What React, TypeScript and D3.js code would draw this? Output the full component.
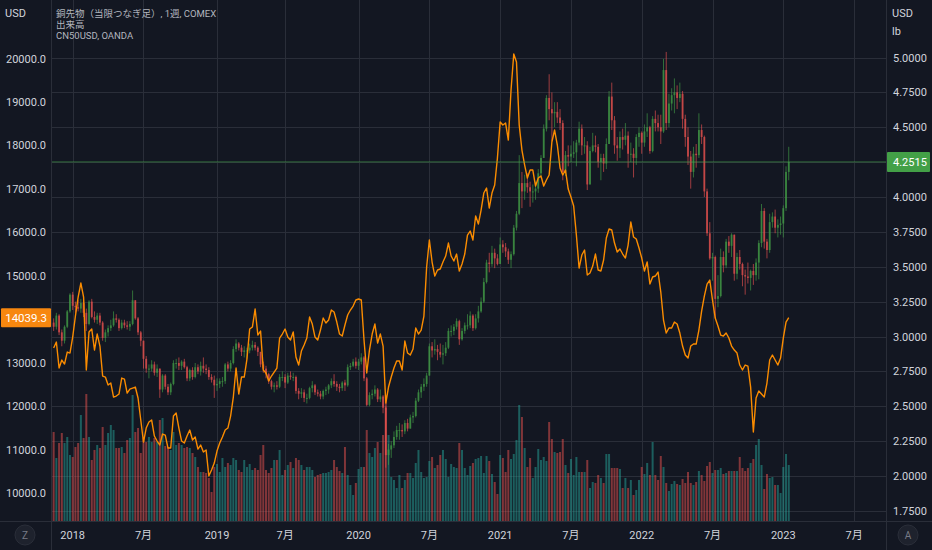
import React from "react";
import * as d3 from "d3";

const WIDTH = 932;
const HEIGHT = 550;
const plot = { left: 52, right: 886, top: 0, bottom: 521 };

// weekly bars, first bar = week of 2017-11-13, last bar = week of 2023-01-16
const firstWeek = new Date(2017, 10, 13);
const firstOpen = 3.1;

// copper futures (front month), USD / lb
const copperClose = [
  3.07, 3.15, 3.03, 2.97, 3.07, 3.18, 3.3,
  // 2018
  3.22, 3.21, 3.2, 3.24, 3.17, 3.09, 3.25, 3.14, 3.12, 3.15,
  3.1, 2.99, 3.03, 3.06, 3.08, 3.13, 3.12, 3.06, 3.1, 3.08,
  3.07, 3.09, 3.26, 3.13, 3.03, 2.97, 2.84, 2.77, 2.77, 2.8,
  2.74, 2.77, 2.62, 2.72, 2.64, 2.6, 2.66, 2.81, 2.81, 2.79,
  2.82, 2.78, 2.7, 2.76, 2.71, 2.78, 2.75, 2.79, 2.77, 2.76,
  2.71, 2.69, 2.65,
  // 2019
  2.66, 2.68, 2.68, 2.8, 2.77, 2.81, 2.91, 2.95, 2.92, 2.89,
  2.9, 2.9, 2.92, 2.94, 2.92, 2.89, 2.8, 2.77, 2.73, 2.68,
  2.64, 2.65, 2.64, 2.71, 2.71, 2.67, 2.72, 2.71, 2.71, 2.61,
  2.59, 2.6, 2.56, 2.56, 2.63, 2.65, 2.6, 2.59, 2.57, 2.61,
  2.62, 2.65, 2.68, 2.66, 2.64, 2.63, 2.67, 2.65, 2.78, 2.79,
  2.82, 2.79,
  // 2020
  2.82, 2.85, 2.7, 2.51, 2.58, 2.59, 2.62, 2.55, 2.57, 2.49,
  2.15, 2.19, 2.22, 2.28, 2.33, 2.33, 2.32, 2.38, 2.34, 2.42,
  2.43, 2.54, 2.6, 2.64, 2.66, 2.72, 2.93, 2.9, 2.91, 2.89,
  2.87, 2.88, 2.92, 3.04, 3.04, 3.07, 3.11, 2.98, 3.04, 3.08,
  3.08, 3.15, 3.06, 3.13, 3.18, 3.25, 3.39, 3.53, 3.52, 3.6,
  3.56, 3.52,
  // 2021
  3.66, 3.64, 3.61, 3.55, 3.59, 3.78, 3.88, 4.1, 4.04, 4.1,
  4.07, 4.04, 4.04, 4.06, 4.17, 4.28, 4.49, 4.71, 4.63, 4.6,
  4.61, 4.57, 4.53, 4.18, 4.3, 4.29, 4.31, 4.32, 4.39, 4.49,
  4.37, 4.37, 4.09, 4.33, 4.37, 4.36, 4.25, 4.28, 4.24, 4.38,
  4.72, 4.55, 4.37, 4.35, 4.43, 4.41, 4.44, 4.31, 4.31, 4.28,
  4.43, 4.46,
  // 2022
  4.39, 4.47, 4.5, 4.33, 4.56, 4.53, 4.5, 4.47, 4.91, 4.53,
  4.67, 4.73, 4.75, 4.71, 4.74, 4.56, 4.43, 4.29, 4.18, 4.31,
  4.3, 4.48, 4.43, 4.04, 3.74, 3.56, 3.57, 3.27, 3.29, 3.57,
  3.51, 3.68, 3.65, 3.73, 3.45, 3.57, 3.52, 3.44, 3.43, 3.42,
  3.47, 3.44, 3.53, 3.67, 3.9, 3.68, 3.62, 3.82, 3.86, 3.78,
  3.8, 3.81,
  // 2023
  3.92, 4.18, 4.2515,
];

const copperHigh = [
  3.13, 3.17, 3.16, 3.05, 3.08, 3.19, 3.31,
  3.32, 3.25, 3.26, 3.27, 3.26, 3.2, 3.26, 3.27, 3.18, 3.17,
  3.17, 3.11, 3.05, 3.08, 3.12, 3.18, 3.16, 3.13, 3.12, 3.12,
  3.11, 3.11, 3.33, 3.26, 3.14, 3.04, 2.97, 2.86, 2.8, 2.83,
  2.82, 2.8, 2.77, 2.73, 2.73, 2.66, 2.67, 2.83, 2.84, 2.85,
  2.83, 2.84, 2.79, 2.77, 2.78, 2.81, 2.8, 2.82, 2.85, 2.8,
  2.78, 2.73, 2.72,
  2.7, 2.7, 2.71, 2.81, 2.82, 2.83, 2.93, 2.98, 2.96, 2.94,
  2.93, 2.92, 2.95, 2.97, 2.96, 2.93, 2.89, 2.82, 2.79, 2.74,
  2.69, 2.67, 2.68, 2.73, 2.75, 2.73, 2.74, 2.75, 2.74, 2.72,
  2.63, 2.63, 2.62, 2.59, 2.64, 2.68, 2.66, 2.62, 2.61, 2.62,
  2.64, 2.66, 2.7, 2.73, 2.68, 2.66, 2.68, 2.69, 2.8, 2.81,
  2.84, 2.85,
  2.84, 2.88, 2.86, 2.71, 2.6, 2.62, 2.65, 2.63, 2.62, 2.58,
  2.5, 2.23, 2.25, 2.32, 2.36, 2.38, 2.37, 2.4, 2.41, 2.44,
  2.46, 2.56, 2.62, 2.66, 2.7, 2.74, 2.95, 2.96, 2.98, 2.94,
  2.95, 2.94, 2.96, 3.06, 3.08, 3.09, 3.13, 3.12, 3.06, 3.1,
  3.16, 3.18, 3.16, 3.16, 3.22, 3.28, 3.42, 3.55, 3.6, 3.65,
  3.63, 3.59,
  3.71, 3.69, 3.67, 3.63, 3.61, 3.8, 3.9, 4.3, 4.18, 4.16,
  4.17, 4.11, 4.09, 4.11, 4.2, 4.3, 4.52, 4.73, 4.88, 4.75,
  4.68, 4.68, 4.63, 4.55, 4.33, 4.37, 4.37, 4.4, 4.41, 4.54,
  4.52, 4.43, 4.4, 4.36, 4.46, 4.44, 4.38, 4.31, 4.31, 4.42,
  4.76, 4.82, 4.58, 4.43, 4.47, 4.49, 4.53, 4.47, 4.39, 4.35,
  4.45, 4.5,
  4.47, 4.52, 4.6, 4.51, 4.58, 4.62, 4.59, 4.59, 4.99, 5.04,
  4.74, 4.78, 4.85, 4.8, 4.82, 4.76, 4.59, 4.5, 4.33, 4.36,
  4.38, 4.6, 4.52, 4.44, 4.06, 3.82, 3.6, 3.58, 3.44, 3.63,
  3.61, 3.7, 3.72, 3.74, 3.72, 3.6, 3.62, 3.53, 3.48, 3.53,
  3.48, 3.52, 3.56, 3.69, 3.95, 3.92, 3.7, 3.88, 3.89, 3.91,
  3.84, 3.86,
  3.94, 4.22, 4.36,
];

const copperLow = [
  3.04, 3.05, 3.01, 2.93, 2.95, 3.06, 3.17,
  3.19, 3.17, 3.18, 3.17, 3.14, 3.04, 3.08, 3.13, 3.1, 3.09,
  3.08, 2.97, 2.96, 3.0, 3.04, 3.07, 3.1, 3.04, 3.05, 3.06,
  3.05, 3.04, 3.08, 3.12, 3.01, 2.93, 2.77, 2.74, 2.7, 2.75,
  2.72, 2.71, 2.56, 2.6, 2.62, 2.58, 2.58, 2.65, 2.77, 2.76,
  2.76, 2.77, 2.68, 2.68, 2.69, 2.7, 2.73, 2.72, 2.74, 2.73,
  2.69, 2.67, 2.56,
  2.61, 2.63, 2.64, 2.66, 2.75, 2.75, 2.8, 2.89, 2.9, 2.86,
  2.85, 2.84, 2.88, 2.9, 2.9, 2.86, 2.78, 2.74, 2.7, 2.66,
  2.62, 2.6, 2.62, 2.63, 2.68, 2.63, 2.66, 2.69, 2.68, 2.59,
  2.55, 2.56, 2.53, 2.52, 2.55, 2.6, 2.58, 2.57, 2.55, 2.55,
  2.58, 2.59, 2.63, 2.64, 2.61, 2.6, 2.61, 2.61, 2.64, 2.76,
  2.78, 2.77,
  2.76, 2.8, 2.68, 2.5, 2.5, 2.55, 2.57, 2.53, 2.53, 2.45,
  2.06, 2.08, 2.13, 2.2, 2.26, 2.26, 2.28, 2.3, 2.32, 2.34,
  2.38, 2.42, 2.53, 2.56, 2.61, 2.64, 2.72, 2.85, 2.87, 2.83,
  2.85, 2.8, 2.86, 2.91, 3.0, 3.01, 3.05, 2.94, 2.97, 3.02,
  3.05, 3.06, 3.04, 3.05, 3.1, 3.17, 3.24, 3.38, 3.46, 3.5,
  3.49, 3.51,
  3.52, 3.6, 3.57, 3.52, 3.49, 3.58, 3.76, 3.87, 3.92, 3.98,
  4.03, 3.93, 3.96, 3.98, 4.03, 4.15, 4.28, 4.47, 4.55, 4.4,
  4.5, 4.53, 4.48, 4.12, 4.15, 4.22, 4.25, 4.28, 4.22, 4.37,
  4.3, 4.31, 4.05, 4.1, 4.32, 4.32, 4.21, 4.12, 4.18, 4.2,
  4.38, 4.48, 4.31, 4.26, 4.28, 4.34, 4.37, 4.21, 4.25, 4.14,
  4.23, 4.36,
  4.31, 4.36, 4.43, 4.31, 4.32, 4.47, 4.47, 4.38, 4.46, 4.48,
  4.5, 4.62, 4.6, 4.63, 4.68, 4.49, 4.36, 4.23, 4.06, 4.14,
  4.21, 4.28, 4.38, 4.0, 3.72, 3.55, 3.4, 3.13, 3.21, 3.28,
  3.46, 3.49, 3.6, 3.57, 3.4, 3.41, 3.48, 3.36, 3.3, 3.38,
  3.33, 3.37, 3.4, 3.41, 3.64, 3.63, 3.56, 3.6, 3.78, 3.74,
  3.71, 3.73,
  3.71, 3.9, 4.12,
];

// weekly volume, thousand contracts
const volume = [
  445, 315, 390, 440, 390, 420, 330,
  320, 370, 390, 530, 415, 635, 420, 305, 355, 380,
  365, 470, 380, 440, 480, 455, 365, 365, 370, 340,
  405, 415, 630, 445, 465, 340, 415, 395, 420, 395,
  415, 395, 505, 515, 375, 370, 355, 445, 380, 390,
  380, 365, 370, 365, 340, 320, 270, 245, 245, 240,
  215, 145, 270,
  285, 245, 315, 270, 290, 280, 315, 305, 255, 245,
  305, 270, 285, 255, 265, 255, 330, 380, 255, 240,
  265, 305, 305, 355, 230, 255, 280, 295, 265, 315,
  305, 280, 255, 270, 270, 255, 220, 230, 235, 240,
  240, 245, 255, 305, 270, 250, 240, 370, 230, 180,
  130, 190,
  260, 270, 270, 455, 340, 320, 365, 395, 340, 430,
  630, 430, 220, 205, 165, 230, 165, 205, 240, 240,
  215, 290, 355, 245, 215, 220, 300, 320, 265, 280,
  330, 355, 310, 220, 285, 270, 265, 390, 355, 265,
  230, 275, 290, 310, 315, 325, 240, 325, 300, 235,
  195, 135,
  330, 315, 245, 355, 310, 335, 405, 580, 520, 365,
  270, 315, 215, 270, 360, 305, 320, 300, 495, 410,
  345, 340, 345, 410, 280, 240, 310, 230, 320, 245,
  245, 245, 305, 165, 195, 190, 230, 215, 190, 335,
  335, 265, 265, 265, 260, 165, 215, 165, 205, 130,
  155, 205,
  270, 235, 290, 230, 395, 230, 205, 325, 270, 190,
  150, 185, 200, 185, 180, 210, 190, 245, 190, 180,
  195, 250, 230, 200, 275, 295, 240, 255, 255, 265,
  235, 240, 250, 250, 250, 250, 320, 265, 250, 265,
  290, 310, 380, 410, 280, 160, 235, 215, 220, 180,
  180, 140,
  270, 335, 280,
];

// CN50USD weekly close (OANDA), USD
const cn50 = [
  13341, 13479, 12881, 13065, 12973, 13249, 13226,
  13594, 14077, 14514, 14836, 14514, 12835, 13709, 13778, 13295, 13663,
  13387, 12697, 12674, 12490, 12536, 12214, 12237, 12283, 12651, 12628,
  12306, 12398, 12421, 12444, 12191, 11685, 11179, 11501, 11639, 11685,
  11317, 11202, 11110, 11363, 11340, 11041, 11041, 11777, 11846, 11501,
  11202, 11156, 11317, 11455, 11225, 11294, 11018, 11110, 10949, 10995,
  10397, 10535, 10696,
  10972, 11156, 11294, 11455, 11501, 11777, 12214, 12881, 12283, 12674,
  12674, 13088, 13778, 13824, 14238, 13640, 13732, 12835, 12766, 12582,
  12697, 12789, 12881, 13571, 13663, 13778, 13594, 13525, 13709, 13134,
  12950, 13272, 13410, 13571, 14054, 13893, 13594, 13525, 13755, 14031,
  13916, 13985, 14215, 14169, 13939, 13663, 13617, 13870, 14100, 14215,
  14307, 14445,
  14468, 14445, 13525, 12766, 13295, 13663, 13893, 13456, 13663, 13387,
  12076, 12444, 12674, 12881, 13042, 13042, 12835, 13502, 13226, 13180,
  13318, 13801, 13663, 13755, 14077, 15204, 15825, 15319, 14997, 15135,
  15158, 15319, 15457, 15756, 15457, 15342, 15503, 15112, 15273, 15503,
  15940, 16032, 15825, 16377, 16193, 16515, 16906, 17021, 16561, 16906,
  17090, 17711,
  18539, 18470, 18516, 18125, 19275, 20103, 19919, 18470, 17895, 17550,
  17251, 17435, 17435, 17067, 17251, 17297, 17067, 17205, 17320, 18079,
  18355, 18010, 17481, 17320, 17435, 16998, 16814, 16607, 15940, 15181,
  15480, 15595, 15020, 15066, 15227, 15503, 15135, 15112, 15365, 15871,
  16078, 16055, 15756, 15549, 15618, 15503, 15411, 15710, 16239, 15894,
  15848, 15641,
  15411, 15112, 15319, 14813, 14974, 14997, 15089, 14629, 13985, 13686,
  13801, 13801, 13939, 13893, 13686, 13387, 13180, 13111, 13387, 13433,
  13433, 13755, 14192, 14537, 14813, 14905, 14445, 14031, 13847, 13640,
  13617, 13686, 13571, 13387, 13295, 13226, 12950, 12835, 12950, 12927,
  12444, 11409, 12191, 12352, 12283, 12214, 12536, 13065, 13180, 13065,
  12950, 13111,
  13571, 13939, 14039.3,
];

const priceTicks = [5, 4.75, 4.5, 4.25, 4, 3.75, 3.5, 3.25, 3, 2.75, 2.5, 2.25, 2, 1.75];
const cnTicks = [20000, 19000, 18000, 17000, 16000, 15000, 14000, 13000, 12000, 11000, 10000];
const timeTickDates = [
  "2018-01-01", "2018-07-02", "2019-01-07", "2019-07-01", "2020-01-06", "2020-07-06",
  "2021-01-04", "2021-07-05", "2022-01-03", "2022-07-04", "2023-01-02", "2023-07-03",
];
const timeTickLabels = ["2018", "7月", "2019", "7月", "2020", "7月", "2021", "7月", "2022", "7月", "2023", "7月"];

const BG = "#131722";
const GRID = "#2a2e39";
const TEXT = "#d1d4dc";
const UP = "#43a047";
const DOWN = "#ef5350";
const ORANGE = "#fb8c00";
const FONT = "Roboto, 'Noto Sans CJK JP', sans-serif";

export default function App() {
  const parse = d3.timeParse("%Y-%m-%d");
  const weeks = copperClose.map((_, i) => d3.timeMonday.offset(firstWeek, i));
  const opens = copperClose.map((_, i) => (i === 0 ? firstOpen : copperClose[i - 1]));

  const x = d3
    .scaleTime()
    .domain([new Date(2018, 0, 1), new Date(2023, 0, 2)])
    .range([72.7, 783.3]);
  const yPrice = d3.scaleLinear().domain([1.75, 5]).range([510.9, 57.5]);
  const yCn = d3.scaleLinear().domain([10000, 20000]).range([493.3, 58.5]);
  const yVol = d3.scaleLinear().domain([0, 1000]).range([plot.bottom, plot.bottom - 200]);

  const cnLine = d3
    .line<number>()
    .x((_, i) => x(weeks[i]))
    .y((d) => yCn(d));

  const last = copperClose.length - 1;
  const lastPrice = copperClose[last];
  const lastCn = cn50[last];

  return (
    <svg
      width={WIDTH}
      height={HEIGHT}
      style={{ position: "absolute", left: 0, top: 0, display: "block", background: BG }}
      fontFamily={FONT}
    >
      <defs>
        <clipPath id="plot-clip">
          <rect x={plot.left} y={plot.top} width={plot.right - plot.left} height={plot.bottom - plot.top} />
        </clipPath>
      </defs>
      <rect width={WIDTH} height={HEIGHT} fill={BG} />

      {/* grid */}
      <g stroke={GRID} strokeWidth={1}>
        {priceTicks.map((t) => (
          <line key={t} x1={plot.left} x2={plot.right} y1={Math.round(yPrice(t)) + 0.5} y2={Math.round(yPrice(t)) + 0.5} />
        ))}
        {timeTickDates.map((d) => {
          const xx = Math.round(x(parse(d)!)) + 0.5;
          return <line key={d} x1={xx} x2={xx} y1={plot.top} y2={plot.bottom} />;
        })}
      </g>

      <g clipPath="url(#plot-clip)">
        {/* volume */}
        {volume.map((v, i) => {
          const up = copperClose[i] >= opens[i];
          return (
            <rect
              key={i}
              x={x(weeks[i]) - 1}
              y={yVol(v)}
              width={2}
              height={plot.bottom - yVol(v)}
              fill={up ? "#26a69a" : DOWN}
              fillOpacity={0.5}
            />
          );
        })}

        {/* candles */}
        {copperClose.map((c, i) => {
          const o = opens[i];
          const up = c >= o;
          const hi = Math.max(copperHigh[i], o, c);
          const lo = Math.min(copperLow[i], o, c);
          const cx = x(weeks[i]);
          const top = yPrice(Math.max(o, c));
          const h = Math.max(1, Math.abs(yPrice(o) - yPrice(c)));
          const col = up ? UP : DOWN;
          return (
            <g key={i} opacity={0.8}>
              <line x1={cx} x2={cx} y1={yPrice(hi)} y2={yPrice(lo)} stroke={col} strokeWidth={0.8} />
              <rect x={cx - 0.9} y={top} width={1.8} height={h} fill={col} />
            </g>
          );
        })}

        {/* CN50USD */}
        <path d={cnLine(cn50) ?? ""} fill="none" stroke={ORANGE} strokeWidth={1.4} strokeLinejoin="round" />

        {/* last price line */}
        <line
          x1={plot.left}
          x2={plot.right}
          y1={yPrice(lastPrice)}
          y2={yPrice(lastPrice)}
          stroke={UP}
          strokeOpacity={0.6}
          strokeWidth={1}
        />
      </g>

      {/* pane borders */}
      <g stroke={GRID} strokeWidth={1}>
        <line x1={plot.left - 0.5} x2={plot.left - 0.5} y1={0} y2={HEIGHT} />
        <line x1={plot.right + 0.5} x2={plot.right + 0.5} y1={0} y2={HEIGHT} />
        <line x1={0} x2={WIDTH} y1={plot.bottom + 0.5} y2={plot.bottom + 0.5} />
      </g>

      {/* legend */}
      <g fill="#b2b5be" fontSize={9.5}>
        <text x={56} y={17}>銅先物（当限つなぎ足）, 1週, COMEX</text>
        <text x={56} y={28}>出来高</text>
        <text x={56} y={39}>CN50USD, OANDA</text>
      </g>

      {/* right axis */}
      <g fill={TEXT} fontSize={11}>
        <text x={892} y={17}>USD</text>
        <text x={892} y={35}>lb</text>
        {priceTicks
          .filter((t) => Math.abs(yPrice(t) - yPrice(lastPrice)) > 12)
          .map((t) => (
            <text key={t} x={893} y={yPrice(t) + 4}>
              {d3.format(".4f")(t)}
            </text>
          ))}
      </g>
      <rect x={plot.right + 1} y={yPrice(lastPrice) - 10} width={WIDTH - plot.right - 3} height={20} fill={UP} rx={1} />
      <text x={893} y={yPrice(lastPrice) + 4} fill="#ffffff" fontSize={11}>
        {d3.format(".4f")(lastPrice)}
      </text>

      {/* left axis */}
      <g fill={TEXT} fontSize={11}>
        <text x={5} y={17}>USD</text>
        {cnTicks
          .filter((t) => Math.abs(yCn(t) - yCn(lastCn)) > 12)
          .map((t) => (
            <text key={t} x={46} y={yCn(t) + 4} textAnchor="end">
              {d3.format(".1f")(t)}
            </text>
          ))}
      </g>
      <rect x={1} y={yCn(lastCn) - 9.5} width={plot.left - 2} height={19} fill="#f7870f" rx={1} />
      <text x={47} y={yCn(lastCn) + 4} fill="#ffffff" fontSize={11.5} textAnchor="end">
        {d3.format(".1f")(lastCn)}
      </text>

      {/* time axis */}
      <g fill={TEXT} fontSize={11} textAnchor="middle">
        {timeTickDates.map((d, i) => (
          <text key={d} x={x(parse(d)!)} y={539}>
            {timeTickLabels[i]}
          </text>
        ))}
      </g>

      {/* axis buttons */}
      <g fontSize={10} textAnchor="middle" fill="#787b86">
        <circle cx={25} cy={535} r={10} fill="#1e222d" stroke={GRID} />
        <text x={25} y={539}>Z</text>
        <circle cx={908} cy={535} r={10} fill="#1e222d" stroke={GRID} />
        <text x={908} y={539}>A</text>
      </g>
    </svg>
  );
}
